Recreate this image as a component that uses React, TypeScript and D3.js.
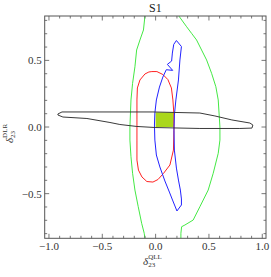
import React from 'react';
import * as d3 from 'd3';

type Pt = [number, number];

// contour data (x = delta QLL, y = delta DLR)
const blackContour: Pt[] = [
  [-0.916, 0.098], [-0.878, 0.113], [-0.522, 0.113], [-0.025, 0.113], [0.415, 0.105],
  [0.556, 0.083], [0.715, 0.053], [0.884, 0.03], [0.912, 0.015], [0.903, -0.008],
  [0.79, -0.011], [0.415, -0.011], [0.003, -0.004], [-0.175, 0.004], [-0.335, 0.019],
  [-0.428, 0.034], [-0.644, 0.064], [-0.869, 0.075], [-0.916, 0.09],
];

const redContour: Pt[] = [
  [-0.035, 0.416], [0.012, 0.416], [0.068, 0.394], [0.115, 0.356], [0.148, 0.293],
  [0.162, 0.203], [0.172, 0.09], [0.172, -0.023], [0.167, -0.173], [0.134, -0.285],
  [0.073, -0.349], [0.022, -0.394], [-0.025, -0.413], [-0.082, -0.409], [-0.128, -0.375],
  [-0.161, -0.323], [-0.175, -0.248], [-0.175, -0.098], [-0.175, 0.053], [-0.175, 0.203],
  [-0.171, 0.293], [-0.147, 0.353], [-0.1, 0.398], [-0.063, 0.413],
];

const blueContour: Pt[] = [
  [0.195, 0.649], [0.242, 0.604], [0.228, 0.503], [0.214, 0.353], [0.19, 0.203],
  [0.176, 0.09], [0.172, -0.023], [0.176, -0.173], [0.195, -0.308], [0.214, -0.398],
  [0.232, -0.473], [0.242, -0.54], [0.242, -0.585], [0.2, -0.63], [0.162, -0.555],
  [0.129, -0.488], [0.087, -0.405], [0.04, -0.3], [0.007, -0.21], [-0.007, -0.098],
  [-0.011, 0.015], [-0.007, 0.105], [0.007, 0.203], [0.036, 0.3], [0.068, 0.375],
  [0.1, 0.43], [0.16, 0.425], [0.11, 0.47], [0.15, 0.495], [0.157, 0.555],
  [0.17, 0.62],
];

const greenLeft: Pt[] = [
  [-0.1, 0.833], [-0.114, 0.728], [-0.147, 0.653], [-0.178, 0.578], [-0.194, 0.452],
  [-0.216, 0.328], [-0.231, 0.203], [-0.241, 0.0], [-0.241, -0.098], [-0.231, -0.223],
  [-0.216, -0.347], [-0.194, -0.473], [-0.163, -0.598], [-0.131, -0.722], [-0.107, -0.797],
  [-0.1, -0.835],
];

const greenRight: Pt[] = [
  [0.218, 0.833], [0.291, 0.752], [0.337, 0.703], [0.384, 0.653], [0.431, 0.578],
  [0.478, 0.503], [0.525, 0.403], [0.565, 0.302], [0.587, 0.203], [0.603, 0.0],
  [0.603, -0.098], [0.587, -0.197], [0.54, -0.347], [0.493, -0.473], [0.415, -0.598],
  [0.352, -0.698], [0.275, -0.735], [0.244, -0.748], [0.237, -0.797], [0.237, -0.835],
];

// allowed box (x0, x1, y0, y1)
const greenBox = [0.0, 0.17, 0.0, 0.11];

const xTicks = [-1.0, -0.5, 0.0, 0.5, 1.0];
const yTicks = [-0.5, 0.0, 0.5];
const xMinor = d3.range(-10, 11).map(d => d / 10);
const yMinor = d3.range(-8, 9).map(d => d / 10);

const W = 271;
const H = 277;
const left = 44.7;
const right = 266;
const top = 16;
const bottom = 238.3;

const fmt = (v: number) => (v < 0 ? '\u2212' : '') + Math.abs(v).toFixed(1);

const App: React.FC = () => {
  const x = d3.scaleLinear().domain([-1.04, 1.035]).range([left, right]);
  const y = d3.scaleLinear().domain([-0.835, 0.833]).range([bottom, top]);

  const open = d3.line<Pt>().x(d => x(d[0])).y(d => y(d[1]));
  const closed = d3.line<Pt>().x(d => x(d[0])).y(d => y(d[1])).curve(d3.curveLinearClosed);

  const font = '"Liberation Serif", "DejaVu Serif", serif';
  const frameColor = '#555';

  return (
    <svg width={W} height={H} style={{ position: 'absolute', left: 0, top: 0, background: '#fff' }}
      fontFamily={font}>
      <defs>
        <clipPath id="plot">
          <rect x={left} y={top} width={right - left} height={bottom - top} />
        </clipPath>
      </defs>

      <text x={(left + right) / 2} y={12} textAnchor="middle" fontSize={12} fill="#222">S1</text>

      <g clipPath="url(#plot)" fill="none" strokeWidth={1} strokeLinejoin="round">
        <rect x={x(greenBox[0])} y={y(greenBox[3])} width={x(greenBox[1]) - x(greenBox[0])}
          height={y(greenBox[2]) - y(greenBox[3])} fill="#aad71c" stroke="none" />
        <path d={open(greenLeft)!} stroke="#44e844" />
        <path d={open(greenRight)!} stroke="#44e844" />
        <path d={closed(redContour)!} stroke="#f22" />
        <path d={closed(blueContour)!} stroke="#22f" />
        <path d={closed(blackContour)!} stroke="#3a3a3a" />
      </g>

      {/* frame */}
      <rect x={left} y={top} width={right - left} height={bottom - top} fill="none" stroke={frameColor} strokeWidth={1} />

      {/* ticks on all four sides */}
      {xMinor.map(v => {
        const major = xTicks.some(t => Math.abs(t - v) < 1e-9);
        const len = major ? 4.5 : 2.5;
        return (
          <g key={'xt' + v} stroke={frameColor} strokeWidth={0.8}>
            <line x1={x(v)} x2={x(v)} y1={bottom} y2={bottom - len} />
            <line x1={x(v)} x2={x(v)} y1={top} y2={top + len} />
          </g>
        );
      })}
      {yMinor.map(v => {
        const major = yTicks.some(t => Math.abs(t - v) < 1e-9);
        const len = major ? 4.5 : 2.5;
        return (
          <g key={'yt' + v} stroke={frameColor} strokeWidth={0.8}>
            <line x1={left} x2={left + len} y1={y(v)} y2={y(v)} />
            <line x1={right} x2={right - len} y1={y(v)} y2={y(v)} />
          </g>
        );
      })}

      {xTicks.map(v => (
        <text key={'xl' + v} x={x(v)} y={bottom + 12} textAnchor="middle" fontSize={11} fill="#333">{fmt(v)}</text>
      ))}
      {yTicks.map(v => (
        <text key={'yl' + v} x={left - 3} y={y(v) + 4} textAnchor="end" fontSize={11} fill="#333">{fmt(v)}</text>
      ))}

      {/* axis labels */}
      <text x={143} y={265} fontSize={11} fill="#333">
        <tspan fontStyle="italic">δ</tspan>
        <tspan fontSize={7} dy={2}>23</tspan>
        <tspan fontSize={7} dx={-7} dy={-8}>QLL</tspan>
      </text>
      <text transform="translate(13,143) rotate(-90)" fontSize={11} fill="#333">
        <tspan fontStyle="italic">δ</tspan>
        <tspan fontSize={7} dy={2}>23</tspan>
        <tspan fontSize={7} dx={-7} dy={-8}>DLR</tspan>
      </text>
    </svg>
  );
};

export default App;
